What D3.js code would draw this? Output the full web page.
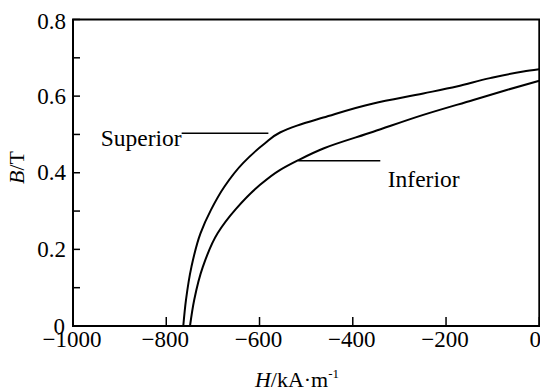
<!DOCTYPE html>
<html><head><meta charset="utf-8">
<script src="https://cdn.jsdelivr.net/npm/d3@7"></script>
<style>body{margin:0;background:#fff}svg{display:block}</style>
</head><body>
<svg id="c" width="540" height="392"></svg>
<script>
const supH = [-763.5,-757.7,-745.9,-726.6,-704.1,-675.1,-635.4,-588.2,-556.1,-519.6,-463.2,-356.0,-248.8,-177.1,-105.7,-34.3,0];
const supB = [0,0.068,0.155,0.242,0.303,0.364,0.425,0.477,0.505,0.523,0.544,0.581,0.607,0.625,0.647,0.664,0.670];
const infH = [-749.1,-740.1,-721.4,-689.9,-650.9,-603.0,-556.5,-516.8,-461.7,-356.0,-248.8,-141.5,-69.9,0];
const infB = [0,0.068,0.155,0.242,0.305,0.364,0.407,0.433,0.464,0.507,0.551,0.590,0.616,0.640];
const xTicks = [-1000,-800,-600,-400,-200,0];
const yTicks = [0,0.2,0.4,0.6,0.8];
const yMinor = [0.1,0.3,0.5,0.7];

const svg = d3.select('#c');
const L=73, R=539.3, T=19.5, B=326;
const x = d3.scaleLinear().domain([-1000,0]).range([L,R]);
const y = d3.scaleLinear().domain([0,0.8]).range([B,T]);
const font = '"Liberation Serif"';

svg.append('rect').attr('x',L).attr('y',T).attr('width',R-L).attr('height',B-T)
  .attr('fill','none').attr('stroke','#000').attr('stroke-width',2);

svg.selectAll('.xt').data(xTicks).enter().append('line')
  .attr('x1',d=>x(d)).attr('x2',d=>x(d)).attr('y1',B).attr('y2',B-9)
  .attr('stroke','#000').attr('stroke-width',1.5);
svg.selectAll('.xl').data(xTicks).enter().append('text')
  .attr('x',d=>d===0?541:x(d)-1).attr('y',347).attr('text-anchor',d=>d===0?'end':'middle')
  .style('font-family',font).style('font-size','23px')
  .text(d=>d===0?'0':'\u2212'+Math.abs(d));
svg.selectAll('.yt').data(yTicks.concat(yMinor)).enter().append('line')
  .attr('x1',L).attr('x2',L+7).attr('y1',d=>y(d)).attr('y2',d=>y(d))
  .attr('stroke','#000').attr('stroke-width',1.5);
svg.selectAll('.yl').data(yTicks).enter().append('text')
  .attr('x',d=>d===0?65:66).attr('y',d=>d===0.8?y(d)+9.5:y(d)+7.5).attr('text-anchor','end')
  .style('font-family',font).style('font-size','23px')
  .text(d=>d===0?'0':d.toFixed(1));

const xt = svg.append('text').attr('x',297).attr('y',387).attr('text-anchor','middle')
  .style('font-family',font).style('font-size','22px');
xt.append('tspan').style('font-style','italic').text('H');
xt.append('tspan').text('/kA\u00b7m');
xt.append('tspan').style('font-size','13px').attr('dy',-9).text('-1');

const yt = svg.append('text').attr('transform','translate(24,167.5) rotate(-90)')
  .attr('text-anchor','middle').style('font-family',font).style('font-size','22px');
yt.append('tspan').style('font-style','italic').text('B');
yt.append('tspan').text('/T');

const line = d3.line().x(d=>x(d[0])).y(d=>y(d[1])).curve(d3.curveMonotoneY);
[[supH,supB],[infH,infB]].forEach(([h,b])=>{
  svg.append('path').datum(h.map((v,i)=>[v,b[i]])).attr('d',line)
    .attr('fill','none').attr('stroke','#000').attr('stroke-width',2);
});

svg.append('line').attr('x1',x(-767)).attr('x2',x(-581)).attr('y1',y(0.503)).attr('y2',y(0.503))
  .attr('stroke','#000').attr('stroke-width',1.5);
svg.append('text').attr('x',x(-767)).attr('y',145.5).attr('text-anchor','end')
  .style('font-family',font).style('font-size','23.5px').text('Superior');
svg.append('line').attr('x1',x(-517)).attr('x2',x(-341)).attr('y1',y(0.431)).attr('y2',y(0.431))
  .attr('stroke','#000').attr('stroke-width',1.5);
svg.append('text').attr('x',x(-325)).attr('y',186.5).attr('text-anchor','start')
  .style('font-family',font).style('font-size','23.5px').text('Inferior');
</script>
</body></html>
